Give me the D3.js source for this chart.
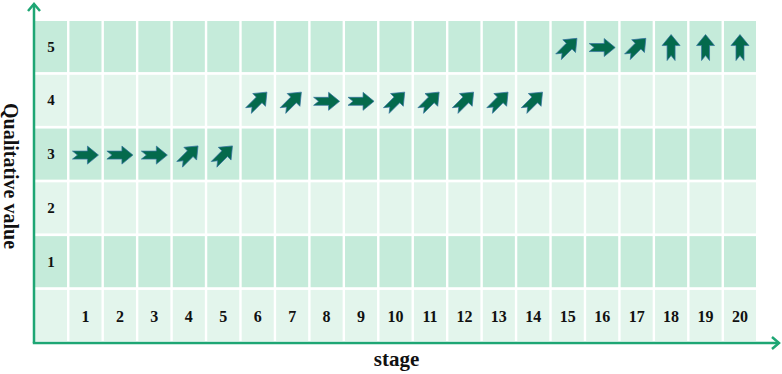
<!DOCTYPE html>
<html>
<head>
<meta charset="utf-8">
<script src="https://cdn.jsdelivr.net/npm/d3@7"></script>
<style>
  html, body { margin: 0; padding: 0; background: #ffffff; }
  svg { display: block; }
</style>
</head>
<body>
<svg id="chart" width="782" height="374"></svg>
<script>
// ---- data ----
const stages = d3.range(1, 21);
const levels = [5, 4, 3, 2, 1];
const values = [3,3,3,3,3, 4,4,4,4,4,4,4,4,4, 5,5,5,5,5,5];
const trends = ["right","right","right","up-right","up-right",
                "up-right","up-right","right","right","up-right","up-right","up-right","up-right","up-right",
                "up-right","right","up-right","up","up","up"];
const xTitle = "stage";
const yTitle = "Qualitative value";

// ---- layout ----
const svg = d3.select("#chart");
const gridLeft = 35, gridRight = 756, gridTop = 21, gridBottom = 341;
const axisColor = "#1ea674";
const darkCell = "#c5ebda";
const lightCell = "#e3f5ec";
const font = "'Liberation Serif', 'Times New Roman', serif";

const colKeys = ["label"].concat(stages.map(String));
const rowKeys = levels.map(String).concat(["stage"]);

const x = d3.scaleBand().domain(colKeys).range([gridLeft, gridRight]).paddingInner(0.07).paddingOuter(0);
const y = d3.scaleBand().domain(rowKeys).range([gridTop, gridBottom]).paddingInner(0.05).paddingOuter(0);

// ---- cells ----
const cells = [];
rowKeys.forEach((r, ri) => colKeys.forEach(c => cells.push({r, c, ri})));
svg.append("g").selectAll("rect").data(cells).join("rect")
  .attr("x", d => x(d.c))
  .attr("y", d => y(d.r))
  .attr("width", x.bandwidth())
  .attr("height", y.bandwidth())
  .attr("fill", d => d.ri % 2 === 0 ? darkCell : lightCell);

// ---- tick labels ----
svg.append("g").selectAll("text").data(levels).join("text")
  .attr("x", x("label") + x.bandwidth() / 2)
  .attr("y", d => y(String(d)) + y.bandwidth() / 2)
  .attr("text-anchor", "middle")
  .attr("dominant-baseline", "central")
  .attr("font-family", font).attr("font-weight", "bold").attr("font-size", 15)
  .attr("fill", "#111")
  .text(d => d);

svg.append("g").selectAll("text").data(stages).join("text")
  .attr("x", d => x(String(d)) + x.bandwidth() / 2)
  .attr("y", y("stage") + y.bandwidth() / 2 + 1)
  .attr("text-anchor", "middle")
  .attr("dominant-baseline", "central")
  .attr("font-family", font).attr("font-weight", "bold").attr("font-size", 16)
  .attr("fill", "#111")
  .text(d => d);

// ---- trend arrows ----
const arrowPath = "M-13,-4 L2,-4 L2,-9 L13,0 L2,9 L2,4 L-13,4 L-8,0 Z";
const angle = {"right": 0, "up-right": -45, "up": -90};
svg.append("g").selectAll("path").data(stages.map((s, i) => ({s, v: values[i], t: trends[i]}))).join("path")
  .attr("d", arrowPath)
  .attr("transform", d => `translate(${x(String(d.s)) + x.bandwidth() / 2},${y(String(d.v)) + y.bandwidth() / 2 + 1}) rotate(${angle[d.t]})`)
  .attr("fill", "#046a4c")
  .attr("stroke", "#3572a0")
  .attr("stroke-width", 0.7)
  .attr("stroke-linejoin", "miter");

// ---- axes ----
const axisY = 343, axisX = 34;
const ax = svg.append("g").attr("fill", "none").attr("stroke", axisColor).attr("stroke-width", 2.5);
ax.append("line").attr("x1", axisX).attr("y1", axisY).attr("x2", axisX).attr("y2", 4);
ax.append("line").attr("x1", axisX - 1.2).attr("y1", axisY).attr("x2", 779).attr("y2", axisY);
ax.append("path").attr("d", `M${axisX - 6},${11} L${axisX},${4} L${axisX + 6},${11}`).attr("stroke-linejoin", "miter");
ax.append("path").attr("d", `M772,${axisY - 6} L779,${axisY} L772,${axisY + 6}`).attr("stroke-linejoin", "miter");

// ---- titles ----
svg.append("text")
  .attr("x", (gridLeft + gridRight) / 2 + 1).attr("y", 366)
  .attr("text-anchor", "middle")
  .attr("font-family", font).attr("font-weight", "bold").attr("font-size", 21)
  .attr("fill", "#111")
  .text(xTitle);

svg.append("text")
  .attr("transform", "translate(4,176) rotate(90)")
  .attr("text-anchor", "middle")
  .attr("font-family", font).attr("font-weight", "bold").attr("font-size", 20)
  .attr("fill", "#111")
  .text(yTitle);
</script>
</body>
</html>
